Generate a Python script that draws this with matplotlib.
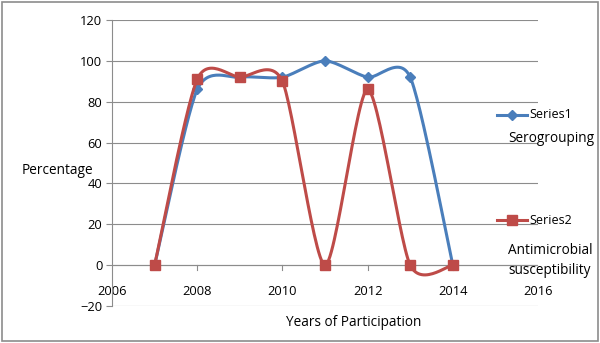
import numpy as np
import matplotlib.pyplot as plt
from matplotlib.patches import Rectangle
from matplotlib.lines import Line2D

years = [2007, 2008, 2009, 2010, 2011, 2012, 2013, 2014]
serogrouping = [0, 86, 92, 92, 100, 92, 92, 0]
antimicrobial = [0, 91, 92, 90, 0, 86, 0, 0]

BLUE = '#4a7ebb'
RED = '#be4b48'


def smooth(x, y, steps=30, k=1 / 8):
    # Excel-style smoothed line (cardinal spline through the points)
    p = np.column_stack([x, y]).astype(float)
    p = np.vstack([p[0], p, p[-1]])
    out = []
    for i in range(1, len(p) - 2):
        p0, p1, p2, p3 = p[i - 1], p[i], p[i + 1], p[i + 2]
        c1 = p1 + (p2 - p0) * k
        c2 = p2 - (p3 - p1) * k
        t = np.linspace(0, 1, steps)[:, None]
        seg = ((1 - t) ** 3) * p1 + 3 * ((1 - t) ** 2) * t * c1 + 3 * (1 - t) * t ** 2 * c2 + t ** 3 * p2
        out.append(seg)
    out = np.vstack(out)
    return out[:, 0], out[:, 1]


plt.rcParams['font.family'] = ['Open Sans', 'DejaVu Sans']

fig = plt.figure(figsize=(6, 3.43), dpi=100)
ax = fig.add_axes([112 / 600, 1 - 306 / 343, 426 / 600, 286 / 343])

ax.set_xlim(2006, 2016)
ax.set_ylim(-20, 120)
ax.set_yticks(range(-20, 121, 20))
ax.set_xticks(range(2006, 2017, 2))
ax.grid(axis='y', color='#8c8c8c', lw=0.8)
ax.set_axisbelow(True)
for s in ['top', 'right', 'bottom']:
    ax.spines[s].set_visible(False)
ax.spines['left'].set_color('#8c8c8c')
ax.axhline(0, color='#8c8c8c', lw=0.8)
ax.tick_params(axis='y', length=4, color='#8c8c8c', labelsize=9.3, pad=3)
ax.tick_params(axis='x', length=0, labelsize=9.3, pad=-15)
for xt in range(2008, 2015, 2):
    ax.plot([xt, xt], [0, -2.2], color='#8c8c8c', lw=0.8, clip_on=False)

xs, ys = smooth(years, serogrouping)
ax.plot(xs, ys, color=BLUE, lw=2.2)
ax.plot(years, serogrouping, ls='none', marker='D', ms=5, color=BLUE)
xs, ys = smooth(years, antimicrobial)
ax.plot(xs, ys, color=RED, lw=2.2)
ax.plot(years, antimicrobial, ls='none', marker='s', ms=7.5, color=RED)

fig.text(22 / 600, 1 - 170 / 343, 'Percentage', fontsize=9.8, va='center')
fig.text(354 / 600, 1 - 323 / 343, 'Years of Participation', fontsize=9.8, ha='center', va='center')

# legend at the right
fig.add_artist(Line2D([497 / 600, 527 / 600], [1 - 115 / 343] * 2, color=BLUE, lw=2.2,
                      transform=fig.transFigure))
fig.add_artist(Line2D([512 / 600], [1 - 115 / 343], color=BLUE, marker='D', ms=5, ls='none',
                      transform=fig.transFigure))
fig.text(529 / 600, 1 - 115 / 343, 'Series1', fontsize=9, va='center')
fig.text(508 / 600, 1 - 138 / 343, 'Serogrouping', fontsize=9.8, va='center')
fig.add_artist(Line2D([497 / 600, 527 / 600], [1 - 220 / 343] * 2, color=RED, lw=2.2,
                      transform=fig.transFigure))
fig.add_artist(Line2D([512 / 600], [1 - 220 / 343], color=RED, marker='s', ms=7.5, ls='none',
                      transform=fig.transFigure))
fig.text(529 / 600, 1 - 220 / 343, 'Series2', fontsize=9, va='center')
fig.text(508 / 600, 1 - 250 / 343, 'Antimicrobial', fontsize=9.8, va='center')
fig.text(508 / 600, 1 - 270 / 343, 'susceptibility', fontsize=9.8, va='center')

fig.add_artist(Rectangle((2 / 600, 2 / 343), 596 / 600, 339 / 343, fill=False,
                         edgecolor='#8c8c8c', lw=1.2, transform=fig.transFigure))

fig.savefig('out.png', dpi=100)
